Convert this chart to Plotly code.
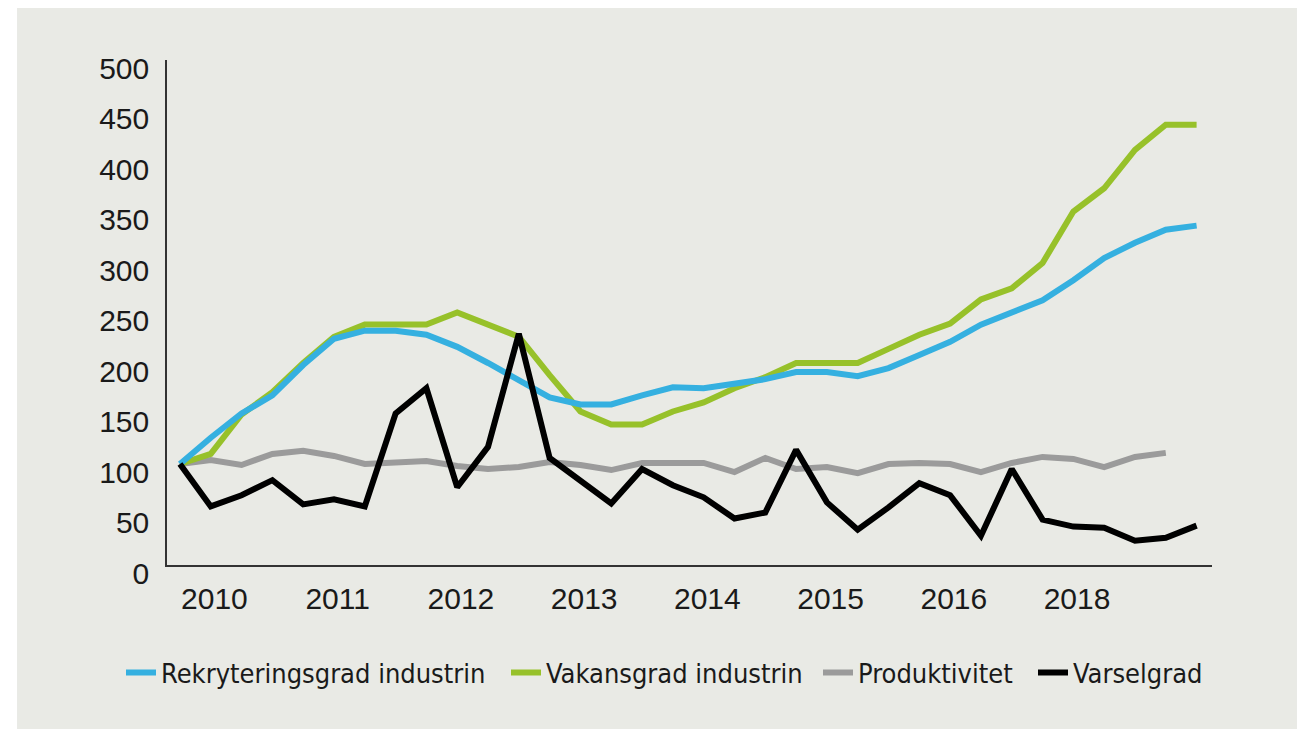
import plotly.graph_objects as go

# Quarterly index (2010 Q1 = 100)
quarters = list(range(34))
tick_labels = ["2010", "2011", "2012", "2013", "2014", "2015", "2016", "2018"]
tick_positions = [1.12, 5.12, 9.12, 13.12, 17.12, 21.12, 25.12, 29.12]

rekrytering = [100, 126, 150, 168, 198, 224, 232, 232, 228, 216, 200, 183, 166, 159, 159, 168,
               176, 175, 180, 184, 191, 191, 187, 195, 208, 221, 238, 250, 262, 282, 304, 319,
               332, 336]
vakans = [100, 110, 149, 171, 200, 226, 238, 238, 238, 250, 238, 226, 188, 152, 139, 139,
          152, 161, 175, 186, 200, 200, 200, 214, 228, 239, 263, 274, 299, 350, 373, 411,
          436, 436]
produktivitet = [100, 104, 99, 110, 113, 108, 100, 102, 103, 98, 95, 97, 102, 99, 94, 101,
                 101, 101, 92, 106, 95, 97, 91, 100, 101, 100, 92, 101, 107, 105, 97, 107,
                 111]
varsel = [100, 58, 69, 84, 60, 65, 58, 150, 175, 77, 117, 229, 106, 84, 61, 95,
          79, 67, 46, 52, 114, 62, 35, 57, 81, 69, 29, 95, 45, 38, 37, 24,
          27, 39]

BG = "#e9eae5"
fig = go.Figure()

# (name, values, colour, legend id, legend left x in paper coords)
series = [
    ("Produktivitet", produktivitet, "#9b9b9b", "legend3", (818 - 167) / 1045),
    ("Vakansgrad industrin", vakans, "#97c12a", "legend2", (506 - 167) / 1045),
    ("Rekryteringsgrad industrin", rekrytering, "#35b0e0", "legend", (121 - 167) / 1045),
    ("Varselgrad", varsel, "#000000", "legend4", (1033 - 167) / 1045),
]
legend_font = dict(family="DejaVu Sans Condensed, Liberation Sans Narrow, Arial Narrow, sans-serif",
                   size=27, color="#1a1a1a")
legends = {}
for name, vals, color, leg, lx in series:
    fig.add_trace(go.Scatter(
        x=quarters[:len(vals)], y=vals, name=name, mode="lines",
        line=dict(color=color, width=6), legend=leg,
    ))
    legends[leg] = dict(
        orientation="h", x=lx, xanchor="left", y=-0.165, yanchor="top",
        font=legend_font, bgcolor="rgba(0,0,0,0)", itemwidth=30,
    )

fig.update_layout(
    width=1303, height=721,
    paper_bgcolor="white",
    plot_bgcolor="rgba(0,0,0,0)",
    margin=dict(l=159, r=99, t=52, b=164),
    font=dict(family="Liberation Sans, Arial, sans-serif", color="#1a1a1a"),
    showlegend=True,
    shapes=[dict(
        type="rect", xref="paper", yref="paper",
        x0=-0.1435, x1=1.0813, y0=-0.33, y1=1.103,
        fillcolor=BG, line=dict(width=0), layer="below",
    )],
    xaxis=dict(
        range=[-0.42, 33.5], tickmode="array", tickvals=tick_positions, ticktext=tick_labels,
        showgrid=False, zeroline=False, showline=True, linecolor="#333333", linewidth=1.5,
        ticks="", tickfont=dict(size=30, color="#1a1a1a"), ticklabelstandoff=6,
    ),
    yaxis=dict(
        range=[0, 500], tickmode="array", tickvals=list(range(0, 501, 50)),
        showgrid=False, zeroline=False, showline=True, linecolor="#333333", linewidth=1.5,
        ticks="", tickfont=dict(size=30, color="#1a1a1a"), ticklabelstandoff=10,
        ticklabelshift=8,
    ),
    **legends,
)

fig.write_html("out.html")
